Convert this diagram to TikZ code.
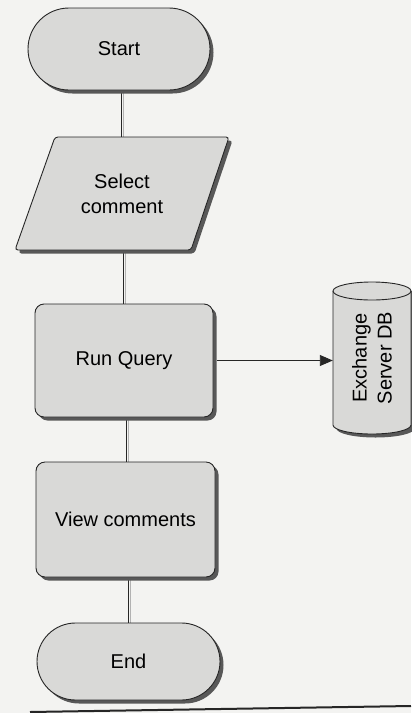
\documentclass[tikz,border=0pt]{standalone}
\usepackage{fontspec}
\setmainfont{Liberation Sans}
\usetikzlibrary{shapes.misc,shadows,arrows.meta}
\definecolor{bgcol}{HTML}{F3F3F1}
\definecolor{boxfill}{HTML}{D9D9D7}
\definecolor{edgecol}{HTML}{262626}
\definecolor{shadowcol}{HTML}{585858}
\pgfdeclarelayer{paper}
\pgfdeclarelayer{lines}
\pgfsetlayers{paper,lines,main}
\tikzset{
  shp/.style={draw=edgecol, line width=0.9pt, fill=boxfill,
    drop shadow={shadow xshift=3.5pt, shadow yshift=-3.5pt, fill=shadowcol, opacity=1}},
  term/.style={shp, rounded rectangle, inner sep=0pt},
  procbox/.style={shp, rectangle, rounded corners=9pt, inner sep=0pt},
  txt/.style={font=\fontsize{20}{25}\selectfont, align=center, inner sep=0pt},
  conn/.style={draw=edgecol, line width=0.9pt,
    preaction={draw=black!30, line width=0.8pt, transform canvas={xshift=2pt}}},
  arr/.style={draw=edgecol, line width=0.9pt, -{Triangle[length=13pt,width=11pt]}}
}
\begin{document}
\begin{tikzpicture}[x=1pt,y=-1pt]
\begin{pgfonlayer}{paper}
\useasboundingbox[fill=bgcol] (0,0) rectangle (411,713);
\end{pgfonlayer}
% shapes
\node[term, txt, minimum width=182pt, minimum height=82pt] (start) at (119,49) {Start};
\path[shp, rounded corners=3pt] (55,137) -- (229,137) -- (191,250) -- (15,250) -- cycle;
\node[txt, minimum width=150pt, minimum height=113pt] (sel) at (122,193.5) {Select\\comment};
\node[procbox, txt, minimum width=178pt, minimum height=113pt] (runq) at (124,360.5) {Run Query};
\node[procbox, txt, minimum width=179pt, minimum height=115pt] (view) at (125.5,519.5) {View comments};
\node[term, txt, minimum width=183pt, minimum height=77pt] (end) at (128.5,661.5) {End};
% cylinder
\path[shp] (333,291) -- (333,425)
  arc[start angle=180, end angle=360, x radius=39pt, y radius=9pt]
  -- (411,291)
  arc[start angle=0, end angle=180, x radius=39pt, y radius=9pt] -- cycle;
\draw[draw=edgecol, line width=0.9pt] (333,291)
  arc[start angle=180, end angle=360, x radius=39pt, y radius=9pt];
\node[txt, rotate=90, minimum width=150pt, minimum height=78pt] (db) at (372,358) {Exchange\\Server DB};
% connectors
\begin{pgfonlayer}{lines}
\draw[conn] ([xshift=2pt]start.south) -- ([xshift=2pt]start.south |- sel.north);
\draw[conn] ([xshift=1.5pt]sel.south) -- ([xshift=1.5pt]sel.south |- runq.north);
\draw[conn] ([xshift=2pt]runq.south) -- ([xshift=2pt]runq.south |- view.north);
\draw[conn] ([xshift=3pt]view.south) -- ([xshift=3pt]view.south |- end.north);
\end{pgfonlayer}
% arrow
\draw[arr] ([xshift=4pt]runq.east) -- (runq.east -| db.north);
% page rule
\draw[line width=2pt, edgecol] (30,712) -- (411,706);
\end{tikzpicture}
\end{document}
